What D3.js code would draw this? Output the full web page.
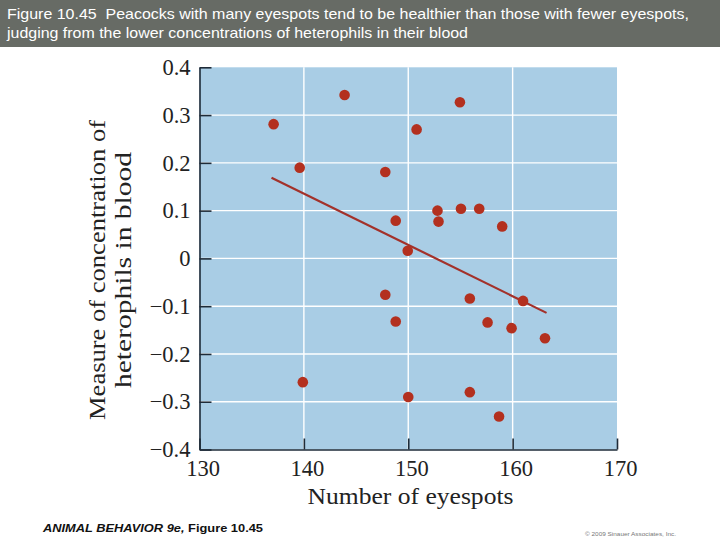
<!DOCTYPE html>
<html>
<head>
<meta charset="utf-8">
<script src="https://cdn.jsdelivr.net/npm/d3@7"></script>
<style>
  html, body { margin: 0; padding: 0; background: #fff; }
  svg { display: block; }
</style>
</head>
<body>
<div id="vis"></div>
<script>
const width = 720;
const height = 540;

// Data
const eyespots = [137.1, 143.9, 139.6, 147.8, 148.8, 149.95, 154.95, 150.8, 152.8, 152.9,
                  155.05, 156.8, 159.0, 155.9, 161.0, 157.6, 159.9, 163.1, 150.0, 155.9,
                  158.7, 147.8, 148.8, 139.9];
const heterophils = [0.281, 0.342, 0.190, 0.181, 0.079, 0.016, 0.327, 0.270, 0.100, 0.077,
                     0.104, 0.104, 0.067, -0.084, -0.089, -0.134, -0.146, -0.167, -0.290, -0.280,
                     -0.331, -0.076, -0.132, -0.259];
const trendX = [136.9, 163.25];
const trendY = [0.169, -0.114];
const xTicks = [130, 140, 150, 160, 170];
const yTicks = [-0.4, -0.3, -0.2, -0.1, 0, 0.1, 0.2, 0.3, 0.4];
const titleLines = [
  "Figure 10.45  Peacocks with many eyespots tend to be healthier than those with fewer eyespots,",
  "judging from the lower concentrations of heterophils in their blood"
];

const margin = { left: 199.5, right: 617, top: 67.3, bottom: 449.5 };

const svg = d3.select("#vis")
  .append("svg")
  .attr("width", width)
  .attr("height", height);

svg.append("rect").attr("width", width).attr("height", height).attr("fill", "#fff");

// Title bar
svg.append("rect")
  .attr("width", width)
  .attr("height", 47)
  .attr("fill", "#676b65");

svg.selectAll(".title")
  .data(titleLines)
  .enter().append("text")
  .attr("x", 7)
  .attr("y", (d, i) => 18.5 + i * 19.3)
  .attr("fill", "#fff")
  .style("font-family", "'Liberation Sans', Arial, sans-serif")
  .style("font-size", "14.5px")
  .style("white-space", "pre")
  .attr("textLength", (d, i) => i === 0 ? 682 : 461)
  .attr("lengthAdjust", "spacingAndGlyphs")
  .text(d => d);

const x = d3.scaleLinear().domain([130, 170]).range([margin.left, margin.right]);
const y = d3.scaleLinear().domain([-0.4, 0.4]).range([margin.bottom, margin.top]);

// Plot background
svg.append("rect")
  .attr("x", x(130))
  .attr("y", y(0.4))
  .attr("width", x(170) - x(130))
  .attr("height", y(-0.4) - y(0.4))
  .attr("fill", "#a9cde5");

// Grid
const grid = svg.append("g").attr("stroke", "#fff").attr("stroke-width", 1.4);
grid.selectAll(".hg")
  .data(yTicks.filter(d => Math.abs(d) < 0.35))
  .enter().append("line")
  .attr("x1", x(130)).attr("x2", x(170))
  .attr("y1", d => y(d)).attr("y2", d => y(d));
grid.selectAll(".vg")
  .data(xTicks.slice(1, -1))
  .enter().append("line")
  .attr("y1", y(0.4)).attr("y2", y(-0.4))
  .attr("x1", d => x(d)).attr("x2", d => x(d));

const axisColor = "#1e2b38";
const fmtY = d => Math.abs(d) < 1e-9 ? "0" : d3.format(".1f")(d);

// Y axis
const yAxis = svg.append("g")
  .attr("transform", `translate(${x(130)},0)`)
  .call(d3.axisLeft(y).tickValues(yTicks).tickSizeInner(-12).tickSizeOuter(0)
    .tickPadding(9).tickFormat(fmtY));

// X axis
const xAxis = svg.append("g")
  .attr("transform", `translate(0,${y(-0.4)})`)
  .call(d3.axisBottom(x).tickValues(xTicks).tickSizeInner(-11).tickSizeOuter(0)
    .tickPadding(11).tickFormat(d3.format("d")));

[yAxis, xAxis].forEach(a => {
  a.select(".domain").attr("stroke", axisColor).attr("stroke-width", 1.6);
  a.selectAll(".tick line").attr("stroke", axisColor).attr("stroke-width", 1.6);
  a.selectAll(".tick text")
    .attr("fill", "#222")
    .style("font-family", "'Liberation Serif', 'Times New Roman', serif")
    .style("font-size", "22.5px");
});
xAxis.selectAll(".tick text").attr("x", 3);

// Trend line
svg.append("path")
  .datum(trendX.map((d, i) => [d, trendY[i]]))
  .attr("fill", "none")
  .attr("stroke", "#a3312a")
  .attr("stroke-width", 2.2)
  .attr("d", d3.line().x(d => x(d[0])).y(d => y(d[1])));

// Points
svg.append("g")
  .selectAll("circle")
  .data(eyespots.map((d, i) => ({ x: d, y: heterophils[i] })))
  .enter().append("circle")
  .attr("cx", d => x(d.x))
  .attr("cy", d => y(d.y))
  .attr("r", 5.3)
  .attr("fill", "#b3301f");

// Axis labels
const serif = "'Liberation Serif', 'Times New Roman', serif";
svg.append("text")
  .attr("x", 410.5)
  .attr("y", 504)
  .attr("text-anchor", "middle")
  .attr("fill", "#222")
  .style("font-family", serif)
  .style("font-size", "23px")
  .attr("textLength", 206)
  .attr("lengthAdjust", "spacingAndGlyphs")
  .text("Number of eyespots");

const yLabel = ["Measure of concentration of", "heterophils in blood"];
svg.selectAll(".ylab")
  .data(yLabel)
  .enter().append("text")
  .attr("transform", (d, i) => `translate(${105 + i * 26},270) rotate(-90)`)
  .attr("text-anchor", "middle")
  .attr("fill", "#222")
  .style("font-family", serif)
  .style("font-size", "23px")
  .attr("textLength", (d, i) => i === 0 ? 300 : 236)
  .attr("lengthAdjust", "spacingAndGlyphs")
  .text(d => d);

// Footer
const footer = svg.append("text")
  .attr("x", 43)
  .attr("y", 532)
  .attr("fill", "#111")
  .style("font-family", "'Liberation Sans', Arial, sans-serif")
  .style("font-size", "11.5px")
  .style("font-weight", "bold")
  .attr("textLength", 220)
  .attr("lengthAdjust", "spacingAndGlyphs");
footer.append("tspan").style("font-style", "italic").text("ANIMAL BEHAVIOR 9e,");
footer.append("tspan").text(" Figure 10.45");

svg.append("text")
  .attr("x", 585)
  .attr("y", 536)
  .attr("fill", "#777")
  .style("font-family", "'Liberation Sans', Arial, sans-serif")
  .style("font-size", "5px")
  .attr("textLength", 91)
  .attr("lengthAdjust", "spacingAndGlyphs")
  .text("© 2009 Sinauer Associates, Inc.");
</script>
</body>
</html>
